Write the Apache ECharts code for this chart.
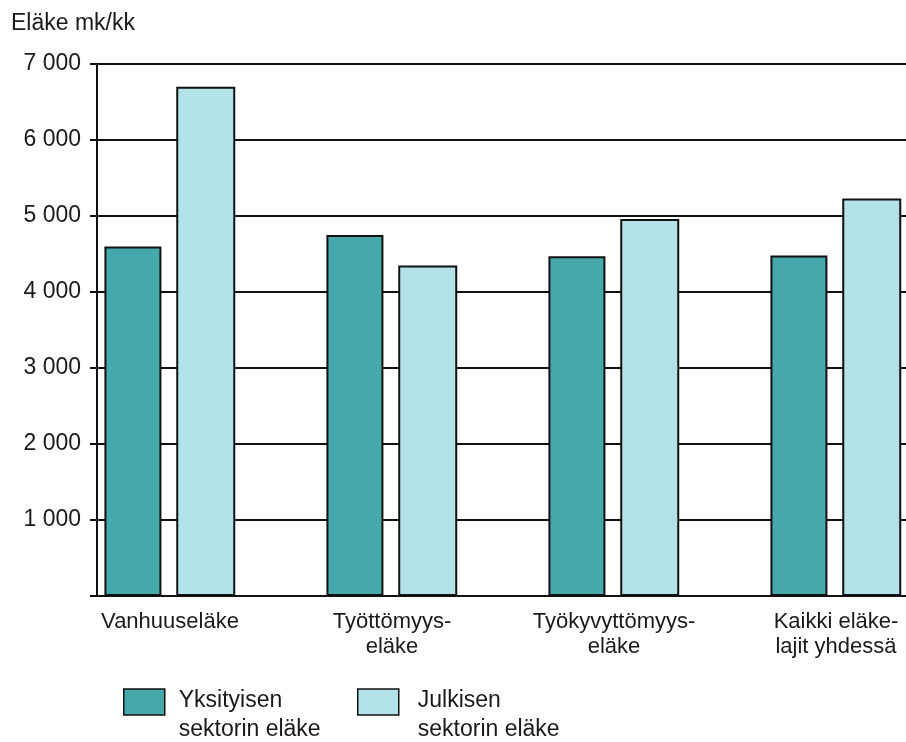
<!DOCTYPE html>
<html>
<head>
<meta charset="utf-8">
<script src="https://cdn.jsdelivr.net/npm/echarts@6/dist/echarts.min.js"></script>
<style>html,body{margin:0;padding:0;background:#fff}#c{width:906px;height:742px}</style>
</head>
<body>
<div id="c"></div>
<script>
const categories = ['Vanhuuseläke', 'Työttömyys-\neläke', 'Työkyvyttömyys-\neläke', 'Kaikki eläke-\nlajit yhdessä'];
const yksityinen = [4600, 4750, 4470, 4480];
const julkinen = [6700, 4350, 4960, 5230];
const seriesNames = ['Yksityisen\nsektorin eläke', 'Julkisen\nsektorin eläke'];
const yTitle = 'Eläke mk/kk';
const yMax = 7000;
const yStep = 1000;

const chart = echarts.init(document.getElementById('c'), null, {renderer: 'canvas'});
const sans = "'Liberation Sans', Arial, sans-serif";
const dark = '#45a8ab';
const light = '#b3e2e8';

function legendFmt(name) {
  return '{s| }\n' + name.split('\n').map(l => '{t|' + l + '}').join('\n');
}
const legendRich = {
  s: {fontSize: 10, lineHeight: 26},
  t: {fontFamily: sans, fontSize: 23, color: '#1a1a1a', lineHeight: 29}
};

chart.setOption({
  animation: false,
  backgroundColor: '#fff',
  title: {
    text: yTitle, left: 6, top: 7,
    textStyle: {fontFamily: sans, fontSize: 23, fontWeight: 'normal', color: '#1a1a1a'}
  },
  legend: [
    {
      data: [seriesNames[0]], left: 123, top: 668, padding: 0, icon: 'rect',
      itemWidth: 41, itemHeight: 26,
      itemStyle: {borderColor: '#111', borderWidth: 1.5},
      formatter: legendFmt,
      textStyle: {padding: [0, 0, 0, 9], rich: legendRich}
    },
    {
      data: [seriesNames[1]], left: 357, top: 668, padding: 0, icon: 'rect',
      itemWidth: 41, itemHeight: 26,
      itemStyle: {borderColor: '#111', borderWidth: 1.5},
      formatter: legendFmt,
      textStyle: {padding: [0, 0, 0, 14], rich: legendRich}
    }
  ],
  grid: {left: 97, top: 64, width: 888, height: 532, outerBoundsMode: 'none', containLabel: false},
  xAxis: {
    type: 'category', data: categories,
    axisLine: {lineStyle: {color: '#111', width: 2}},
    axisTick: {show: false},
    axisLabel: {
      fontFamily: sans, fontSize: 22, color: '#1a1a1a', lineHeight: 25,
      margin: 13, align: 'center', padding: [0, 76, 0, 0], interval: 0
    },
    splitLine: {show: false}
  },
  yAxis: {
    type: 'value', min: 0, max: yMax, interval: yStep,
    axisLine: {show: true, lineStyle: {color: '#111', width: 2}},
    axisTick: {show: true, length: 7, lineStyle: {color: '#111', width: 2}},
    axisLabel: {
      fontFamily: sans, fontSize: 23, color: '#1a1a1a', margin: 16,
      formatter: v => v === 0 ? '' : String(v).replace(/\B(?=(\d{3})+(?!\d))/g, ' ')
    },
    splitLine: {lineStyle: {color: '#111', width: 2}}
  },
  series: [
    {
      name: seriesNames[0], type: 'bar', data: yksityinen, barWidth: 57,
      itemStyle: {color: dark, borderColor: '#111', borderWidth: 2}
    },
    {
      name: seriesNames[1], type: 'bar', data: julkinen, barWidth: 59,
      itemStyle: {color: light, borderColor: '#111', borderWidth: 2}
    },
    {
      name: 'spacer', type: 'bar', data: categories.map(() => '-'), barWidth: 61, barGap: '26%',
      silent: true, itemStyle: {color: 'transparent'}
    }
  ]
});
</script>
</body>
</html>
